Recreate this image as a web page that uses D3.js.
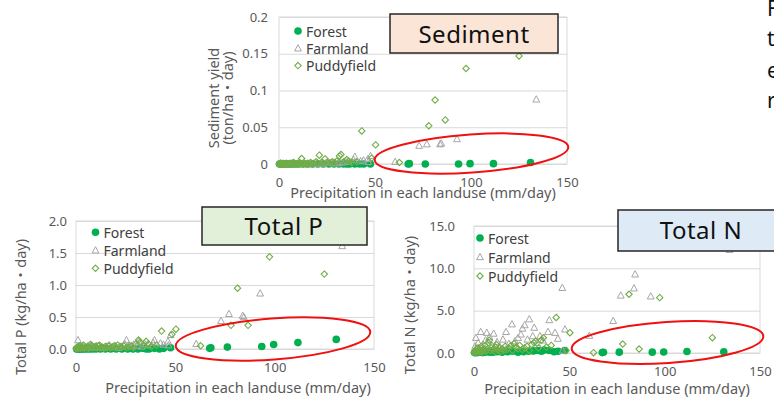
<!DOCTYPE html>
<html>
<head>
<meta charset="utf-8">
<script src="https://cdn.jsdelivr.net/npm/d3@7/dist/d3.min.js"></script>
<style>
  html, body { margin: 0; padding: 0; background: #fff; }
  svg { display: block; font-family: "Noto Sans", "Noto Sans CJK JP", sans-serif; }
</style>
</head>
<body>
<svg id="chart" width="774" height="397"></svg>
<script>
// ---- Observed loads per land use (one entry per rainfall event) ----
const forestPrecip = [0.3, 0.8, 1.2, 1.9, 2.6, 3.4, 4.5, 5.7, 7.0, 8.4, 10.1, 12.3, 14.8, 17.5, 20.2,
  23.1, 26.0, 28.7, 31.2, 33.6, 35.4, 36.8, 39.5, 42.0, 44.1, 47.6, 67.3, 67.9, 76.2, 93.5, 99.5, 111.7, 131.0];
const forestSediment = [0, 0, 0, 0, 0, 0, 0, 0, 0, 0, 0, 0, 0, 0, 0, 0, 0, 0, 0, 0, 0, 0, 0, 0, 0,
  0, 0, 0.0005, 0, 0, 0.0005, 0.0005, 0.002];
const forestTP = [0, 0, 0, 0, 0, 0, 0, 0, 0, 0, 0, 0, 0, 0, 0, 0, 0, 0, 0, 0.01, 0, 0, 0.01, 0, 0.01,
  0.02, 0.01, 0.02, 0.03, 0.04, 0.07, 0.10, 0.15];
const forestTN = [0.05, 0.05, 0.1, 0.05, 0.1, 0.1, 0.05, 0.1, 0.15, 0.1, 0.1, 0.15, 0.1, 0.15, 0.2,
  0.1, 0.15, 0.2, 0.25, 0.3, 0.2, 0.35, 0.3, 0.15, 0.2, 0.3, 0.05, 0.08, 0.1, 0.1, 0.12, 0.18, 0.15];

const farmlandPrecip = [0.6, 1.0, 2.2, 3.5, 4.8, 6.0, 6.7, 8.1, 9.4, 10.3, 12.1, 13.6, 15.2, 16.8, 18.3,
  19.9, 21.5, 23.1, 24.6, 25.4, 26.6, 28.0, 29.0, 30.8, 31.6, 33.0, 34.6, 36.1, 38.8, 39.5,
  42.5, 44.0, 46.3, 46.5, 47.7, 60.5, 73.0, 77.0, 83.9, 84.5, 92.7, 134.0];
const farmlandSediment = [0, 0.001, 0, 0, 0, 0, 0.001, 0, 0, 0.001, 0, 0, 0, 0.001, 0,
  0.001, 0, 0, 0.002, 0.002, 0.002, 0.001, 0.002, 0.001, 0.003, 0.002, 0.004, 0.003, 0.006, 0.010,
  0.004, 0.005, 0.007, 0.003, 0.011, 0.003, 0.025, 0.027, 0.027, 0.028, 0.034, 0.088];
const farmlandTP = [0.02, 0.14, 0.03, 0.05, 0.02, 0.04, 0.06, 0.03, 0.02, 0.05, 0.03, 0.02, 0.04, 0.06, 0.03,
  0.05, 0.02, 0.04, 0.08, 0.14, 0.06, 0.04, 0.07, 0.05, 0.12, 0.04, 0.08, 0.06, 0.10, 0.14,
  0.09, 0.07, 0.12, 0.06, 0.22, 0.08, 0.44, 0.55, 0.52, 0.50, 0.87, 1.61];
const farmlandTN = [0.8, 1.8, 1.2, 2.5, 1.0, 1.5, 2.4, 1.9, 0.9, 2.3, 1.3, 0.7, 1.6, 2.5, 1.1,
  3.4, 1.4, 1.8, 2.2, 2.9, 3.3, 1.6, 4.0, 2.0, 3.0, 1.2, 2.0, 1.5, 2.5, 3.9,
  2.4, 1.7, 7.7, 0.3, 2.8, 2.05, 3.8, 6.8, 7.65, 9.3, 6.7, 12.2];

const puddyPrecip = [0.1, 0.3, 0.5, 0.8, 1.1, 1.4, 1.8, 2.1, 2.5, 2.9, 3.3, 3.8, 4.2, 4.7, 5.2,
  5.8, 6.3, 6.9, 7.5, 8.0, 8.6, 9.2, 9.9, 10.6, 11.3, 11.8, 12.6, 13.1, 14.0, 14.8,
  15.7, 16.4, 17.3, 18.2, 19.4, 20.2, 21.0, 22.1, 23.0, 24.0, 25.3, 26.5, 27.8, 29.0, 30.2,
  31.5, 32.3, 33.8, 35.3, 36.4, 38.0, 40.5, 43.1, 48.3, 50.3, 62.7, 78.0, 81.3, 86.6, 97.4, 125.0];
const puddySediment = [0, 0, 0, 0.001, 0, 0, 0, 0.001, 0, 0, 0, 0.001, 0, 0, 0,
  0.001, 0, 0, 0.002, 0.001, 0, 0, 0.001, 0, 0.001, 0.0075, 0, 0.001, 0, 0.001,
  0, 0.002, 0, 0.001, 0.003, 0.001, 0.012, 0.002, 0.001, 0.007, 0.002, 0.001, 0.003, 0.002, 0.004,
  0.011, 0.013, 0.003, 0.006, 0.004, 0.002, 0.003, 0.045, 0.008, 0.026, 0.002, 0.052, 0.087, 0.060, 0.130, 0.147];
const puddyTP = [0.01, 0.02, 0, 0.03, 0.01, 0.04, 0.02, 0.05, 0.01, 0.03, 0.02, 0.06, 0.01, 0.03, 0.02,
  0.04, 0.01, 0.02, 0.07, 0.05, 0.02, 0.03, 0.04, 0.02, 0.05, 0.06, 0.02, 0.03, 0.01, 0.04,
  0.02, 0.05, 0.02, 0.03, 0.05, 0.02, 0.06, 0.04, 0.03, 0.05, 0.02, 0.03, 0.05, 0.02, 0.08,
  0.14, 0.10, 0.05, 0.12, 0.08, 0.04, 0.06, 0.28, 0.23, 0.31, 0.05, 0.37, 0.95, 0.37, 1.44, 1.17];
const puddyTN = [0.05, 0.1, 0.2, 0.3, 0.1, 0.5, 0.2, 0.6, 0.1, 0.4, 0.2, 0.8, 0.1, 0.3, 0.5,
  0.9, 0.2, 0.4, 1.2, 1.5, 0.3, 0.6, 0.4, 0.2, 0.7, 1.0, 0.3, 0.6, 0.2, 0.5,
  0.3, 0.8, 0.4, 0.6, 0.9, 0.3, 1.1, 0.7, 0.5, 0.9, 0.4, 0.6, 0.8, 0.3, 1.0,
  1.2, 1.4, 0.6, 1.5, 1.8, 0.7, 0.9, 4.2, 0.3, 2.4, 0.04, 1.06, 6.94, 0.47, 6.54, 1.81];

// ---- Axis ticks ----
const xTicks = [0, 50, 100, 150];
const xTickLabels = ["0", "50", "100", "150"];
const sedimentTicks = [0, 0.05, 0.1, 0.15, 0.2];
const sedimentTickLabels = ["0", "0.05", "0.1", "0.15", "0.2"];
const tpTicks = [0, 0.5, 1.0, 1.5, 2.0];
const tpTickLabels = ["0.0", "0.5", "1.0", "1.5", "2.0"];
const tnTicks = [0, 5, 10, 15];
const tnTickLabels = ["0.0", "5.0", "10.0", "15.0"];

const seriesNames = ["Forest", "Farmland", "Puddyfield"];
const xTitle = "Precipitation in each landuse (mm/day)";

// ---- Styling ----
const COL_FOREST = "#00B050";
const COL_FARM = "#A6A6A6";
const COL_PUDDY = "#70AD47";
const COL_TEXT = "#595959";
const COL_GRID = "#D9D9D9";

const svg = d3.select("#chart");
svg.append("rect").attr("width", 774).attr("height", 397).attr("fill", "#fff");

function marker(g, type, cx, cy) {
  if (type === "Forest") {
    g.append("circle").attr("cx", cx).attr("cy", cy).attr("r", 3.8).attr("fill", COL_FOREST);
  } else if (type === "Farmland") {
    const s = 3.6;
    g.append("path")
      .attr("d", `M${cx},${cy - s}L${cx + s * 0.95},${cy + s * 0.75}L${cx - s * 0.95},${cy + s * 0.75}Z`)
      .attr("fill", "none").attr("stroke", COL_FARM).attr("stroke-width", 1);
  } else {
    const s = 3.2;
    g.append("path")
      .attr("d", `M${cx},${cy - s}L${cx + s},${cy}L${cx},${cy + s}L${cx - s},${cy}Z`)
      .attr("fill", "none").attr("stroke", COL_PUDDY).attr("stroke-width", 1.1);
  }
}

function drawPanel(p) {
  const g = svg.append("g");
  const x = d3.scaleLinear().domain([0, 150]).range([p.left, p.right]);
  const y = d3.scaleLinear().domain([0, p.yMax]).range([p.bottom, p.top]);

  // horizontal gridlines
  const grid = g.append("g").attr("transform", `translate(${p.left},0)`)
    .call(d3.axisLeft(y).tickValues(p.yTicks).tickSize(-(p.right - p.left)).tickFormat(""));
  grid.select(".domain").remove();
  grid.selectAll("line").attr("stroke", COL_GRID).attr("stroke-width", 1);

  // plot-area frame
  g.append("rect").attr("x", p.left).attr("y", p.top)
    .attr("width", p.right - p.left).attr("height", p.bottom - p.top)
    .attr("fill", "none").attr("stroke", COL_GRID).attr("stroke-width", 1);

  // y tick labels
  const ya = g.append("g").attr("transform", `translate(${p.left},0)`)
    .call(d3.axisLeft(y).tickValues(p.yTicks).tickSize(0).tickPadding(p.yPad)
      .tickFormat((d, i) => p.yLabels[i]));
  ya.select(".domain").remove();
  ya.selectAll("text").attr("fill", COL_TEXT).style("font-size", "13px")
    .style("font-family", '"Noto Sans", sans-serif');

  // x tick labels
  const xa = g.append("g").attr("transform", `translate(0,${p.bottom})`)
    .call(d3.axisBottom(x).tickValues(xTicks).tickSize(0).tickPadding(p.xPad)
      .tickFormat((d, i) => xTickLabels[i]));
  xa.select(".domain").remove();
  xa.selectAll("text").attr("fill", COL_TEXT).style("font-size", "13px")
    .style("font-family", '"Noto Sans", sans-serif');

  // axis titles
  g.append("text").attr("x", p.xTitleX).attr("y", p.xTitleY).attr("text-anchor", "middle")
    .attr("fill", COL_TEXT).style("font-size", "14.5px").text(xTitle);
  p.yTitle.forEach((line, i) => {
    const tx = p.yTitleX + i * 14;
    g.append("text").attr("transform", `translate(${tx},${p.yTitleY}) rotate(-90)`)
      .attr("text-anchor", "middle").attr("dominant-baseline", "central")
      .attr("fill", COL_TEXT).style("font-size", "14.5px").text(line);
  });

  // points in series order: forest, farmland, paddy field (last on top)
  const pts = g.append("g");
  p.forest.x.forEach((v, i) => marker(pts, "Forest", x(v), y(p.forest.y[i])));
  p.farm.x.forEach((v, i) => marker(pts, "Farmland", x(v), y(p.farm.y[i])));
  p.puddy.x.forEach((v, i) => marker(pts, "Puddyfield", x(v), y(p.puddy.y[i])));

  // legend
  seriesNames.forEach((name, i) => {
    const ly = p.legY + i * p.legDy;
    marker(g, name, p.legX, ly);
    g.append("text").attr("x", p.legX + 8).attr("y", ly).attr("dominant-baseline", "central")
      .attr("fill", "#404040").style("font-size", "14px").text(name);
  });

  // highlight ellipse around the forest events
  g.append("ellipse")
    .attr("transform", `translate(${p.ell.cx},${p.ell.cy}) rotate(${p.ell.rot})`)
    .attr("rx", p.ell.rx).attr("ry", p.ell.ry)
    .attr("fill", "none").attr("stroke", "#F01010").attr("stroke-width", 2);

  // panel label box
  g.append("rect").attr("x", p.box.x).attr("y", p.box.y).attr("width", p.box.w).attr("height", p.box.h)
    .attr("fill", p.box.fill).attr("stroke", "#262626").attr("stroke-width", 1.5);
  g.append("text").attr("x", p.box.tx).attr("y", p.box.ty).attr("text-anchor", "middle")
    .attr("fill", "#111").style("font-size", "24px").style("letter-spacing", "0.5px").text(p.box.label);
}

drawPanel({
  left: 279, right: 567, top: 17, bottom: 164, yMax: 0.2,
  yTicks: sedimentTicks, yLabels: sedimentTickLabels, yPad: 11, xPad: 14,
  xTitleX: 423, xTitleY: 197.5, yTitle: ["Sediment yield", "(ton/ha・day)"], yTitleX: 213, yTitleY: 98,
  forest: { x: forestPrecip, y: forestSediment },
  farm: { x: farmlandPrecip, y: farmlandSediment },
  puddy: { x: puddyPrecip, y: puddySediment },
  legX: 298, legY: 31, legDy: 17.3,
  ell: { cx: 471.5, cy: 153.5, rx: 97, ry: 19, rot: -3.9 },
  box: { x: 390, y: 14, w: 168, h: 39, fill: "#FBE5D6", tx: 474, ty: 43, label: "Sediment" }
});

drawPanel({
  left: 76, right: 374, top: 221, bottom: 349, yMax: 2.0,
  yTicks: tpTicks, yLabels: tpTickLabels, yPad: 9, xPad: 14,
  xTitleX: 238, xTitleY: 393, yTitle: ["Total P (kg/ha・day)"], yTitleX: 20, yTitleY: 307,
  forest: { x: forestPrecip, y: forestTP },
  farm: { x: farmlandPrecip, y: farmlandTP },
  puddy: { x: puddyPrecip, y: puddyTP },
  legX: 95.5, legY: 232.3, legDy: 18,
  ell: { cx: 273, cy: 339, rx: 97.5, ry: 20.5, rot: -4.2 },
  box: { x: 202, y: 207, w: 165, h: 38, fill: "#E2F0D9", tx: 284, ty: 234.5, label: "Total P" }
});

drawPanel({
  left: 474, right: 760, top: 226, bottom: 353, yMax: 15,
  yTicks: tnTicks, yLabels: tnTickLabels, yPad: 19, xPad: 14,
  xTitleX: 617, xTitleY: 394, yTitle: ["Total N (kg/ha・day)"], yTitleX: 408.5, yTitleY: 305,
  forest: { x: forestPrecip, y: forestTN },
  farm: { x: farmlandPrecip, y: farmlandTN },
  puddy: { x: puddyPrecip, y: puddyTN },
  legX: 480, legY: 238, legDy: 19,
  ell: { cx: 667.5, cy: 342.5, rx: 96, ry: 20.5, rot: -3.8 },
  box: { x: 618, y: 210, w: 160, h: 41, fill: "#DEEBF7", tx: 701, ty: 238.5, label: "Total N" }
});

// side note lines running off the right edge
const noteLines = ["F", "t", "e", "r"];
svg.append("g").selectAll("text").data(noteLines).join("text")
  .attr("x", 767).attr("y", (d, i) => [16, 45.5, 77.5, 108][i])
  .attr("fill", "#111").style("font-size", "21px").text(d => d);
</script>
</body>
</html>
